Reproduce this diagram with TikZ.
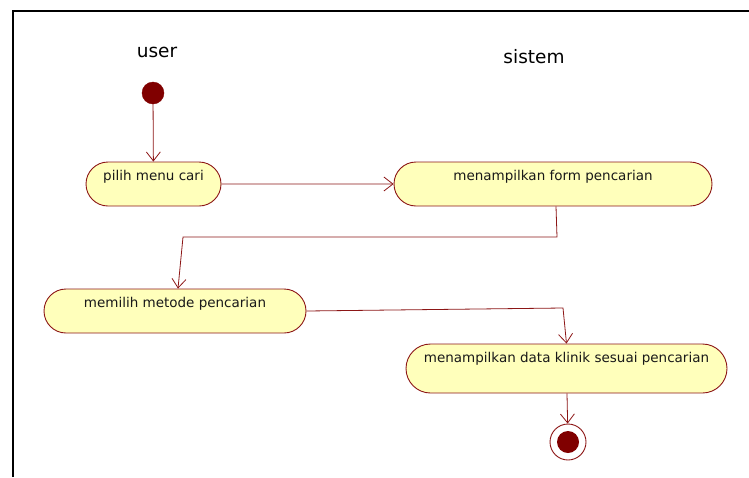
\documentclass[tikz,border=0pt]{standalone}
\usepackage{fontspec}
\setmainfont{DejaVu Sans}
\usetikzlibrary{arrows.meta,shapes.misc}
\definecolor{umlline}{RGB}{140,22,22}
\definecolor{umlfill}{RGB}{255,255,187}
\definecolor{umldot}{RGB}{128,0,0}
\tikzset{
  act/.style={rounded rectangle, draw=umlline, fill=umlfill, line width=0.9pt,
    inner xsep=0pt, inner ysep=4pt, text height=14pt, text depth=22pt,
    font=\fontsize{13.5}{15}\selectfont, text=black!90},
  flow/.style={draw=umlline, line width=0.8pt, -{Straight Barb[length=9pt,width=14pt]}},
  lane/.style={font=\fontsize{18.5}{20}\selectfont}
}
\begin{document}
\begin{tikzpicture}[x=1pt,y=-1pt]
\useasboundingbox (0,0) rectangle (749,477);
\draw[line width=2pt] (13,477) -- (13,11) -- (749,11);
\node[lane] (u) at (157,52) {user};
\node[lane] (s) at (534,57) {sistem};
\node[circle, fill=umldot, draw=umldot, minimum size=22pt, inner sep=0pt] (st) at (153,93) {};
\node[act, minimum width=135pt] (a1) at (153.5,184) {pilih menu cari};
\node[act, minimum width=318pt] (a2) at (553,184) {menampilkan form pencarian};
\node[act, minimum width=262pt] (a3) at (175,311) {memilih metode pencarian};
\node[act, minimum width=321pt, text depth=27pt] (a4) at (566.5,368.5) {menampilkan data klinik sesuai pencarian};
\node[circle, draw=umlline, fill=white, line width=0.9pt, minimum size=36pt, inner sep=0pt] (en) at (568,442) {};
\node[circle, fill=umldot, minimum size=22pt, inner sep=0pt] (enin) at (568,442) {};
\coordinate (c1) at (557,237);
\coordinate (c2) at (183,237);
\coordinate (c3) at (563,308);
\draw[flow] (st) -- (a1);
\draw[flow] (a1) -- (a2);
\draw[flow] ([xshift=3pt]a2.south) -- (c1) -- (c2) -- ([xshift=3pt]a3.north);
\draw[flow] (a3.east) -- (c3) -- (a4.north);
\draw[flow] (a4) -- (en);
\end{tikzpicture}
\end{document}
